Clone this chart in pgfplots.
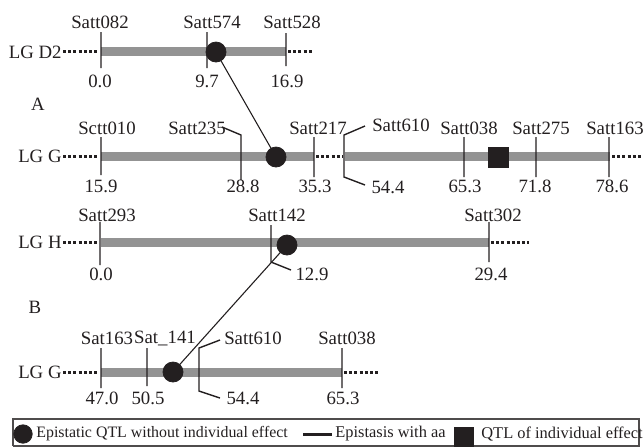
\documentclass[border=0pt]{standalone}
\usepackage{pgfplots}
\pgfplotsset{compat=1.18}
\usepackage{fontspec}
\setmainfont{Liberation Serif}
\definecolor{barg}{HTML}{939393}
\definecolor{ink}{HTML}{231F20}
\begin{document}
\begin{tikzpicture}[every node/.style={font=\fontsize{9.4}{10}\selectfont, inner sep=0pt, text=ink},
  leg/.style={font=\fontsize{8.2}{10}\selectfont}]
\begin{axis}[
  x=0.5pt, y=0.5pt, y dir=reverse,
  xmin=0, xmax=643, ymin=0, ymax=447,
  hide axis, clip=false, scale only axis,
  anchor=south west, at={(0,0)},
  unbounded coords=jump,
  chrom/.style={barg, line width=4.5pt, line cap=butt, mark=none},
  flank/.style={ink, line width=1.5pt, dash pattern=on 1.5pt off 1.1pt, mark=none},
  tick/.style={ink, line width=0.7pt, mark=none},
  link/.style={ink, line width=0.55pt, mark=none},
]
% linkage groups (gray bars)
\addplot[chrom] coordinates {(101,51) (286,51) (nan,nan)
  (101,156) (314,156) (nan,nan) (345,156) (610,156) (nan,nan)
  (101,242) (489,242) (nan,nan) (101,372) (342,372)};
% dotted ends
\addplot[flank] coordinates {(63,51) (99,51) (nan,nan) (288,51) (314,51) (nan,nan)
  (63,156) (99,156) (nan,nan) (316,156) (343,156) (nan,nan) (612,156) (641,156) (nan,nan)
  (63,242) (99,242) (nan,nan) (491,242) (529,242) (nan,nan)
  (63,372) (99,372) (nan,nan) (344,372) (379,372)};
% marker ticks
\addplot[tick] coordinates {
  (101,32) (101,68) (nan,nan) (207,32) (207,68) (nan,nan) (286,33) (286,66) (nan,nan)
  (101,137) (101,175) (nan,nan) (222,127) (241,135) (241,180) (nan,nan)
  (314,137) (314,177) (nan,nan) (365,126) (344,135) (344,177) (365,185) (nan,nan)
  (464,137) (464,177) (nan,nan) (536,137) (536,177) (nan,nan) (609,137) (609,177) (nan,nan)
  (100,222) (100,265) (nan,nan) (271,225) (271,262) (291,270) (nan,nan) (489,222) (489,262) (nan,nan)
  (101,348) (101,388) (nan,nan) (147,348) (147,386) (nan,nan)
  (220,340) (199,348) (199,391) (220,398) (nan,nan) (342,348) (342,388)};
% epistatic links
\addplot[link] coordinates {(216,52) (276,157) (nan,nan) (287,245) (173,372)};
% epistatic QTL
\addplot[only marks, mark=*, mark size=5pt, mark options={fill=ink, draw=ink}]
  coordinates {(216,52) (276,157) (287,245) (173,372)};
% QTL of individual effect
\addplot[only marks, mark=square*, mark size=5pt, mark options={fill=ink, draw=ink}]
  coordinates {(498,157)};
% legend
\addplot[ink!80, line width=0.6pt, mark=none] coordinates {(13,446) (13,419) (639,419) (639,446) (13,446)};
\addplot[only marks, mark=*, mark size=4.6pt, mark options={fill=ink, draw=ink}] coordinates {(23,434)};
\addplot[ink, line width=1.5pt, mark=none] coordinates {(303,434) (332,434)};
\addplot[only marks, mark=square*, mark size=4.7pt, mark options={fill=ink, draw=ink}] coordinates {(464,437)};
\node[font=\fontsize{7.95}{10}\selectfont, anchor=west] at (axis cs:36,434) {Epistatic QTL without individual effect};
\node[leg, anchor=west] at (axis cs:335,434) {Epistasis with aa};
\node[leg, anchor=west] at (axis cs:481,434) {QTL of individual effect};
% group labels
\node[anchor=east] at (axis cs:62,52) {LG D2};
\node[anchor=east] at (axis cs:62,156) {LG G};
\node[anchor=east] at (axis cs:62,242) {LG H};
\node[anchor=east] at (axis cs:62,372) {LG G};
\node at (axis cs:38,104) {A};
\node at (axis cs:35,307) {B};
% LG D2
\node at (axis cs:100,22) {Satt082};
\node at (axis cs:212,22) {Satt574};
\node at (axis cs:292,22) {Satt528};
\node at (axis cs:100,81) {0.0};
\node at (axis cs:207,81) {9.7};
\node at (axis cs:287,81) {16.9};
% LG G (A)
\node at (axis cs:107,128) {Sctt010};
\node at (axis cs:197,128) {Satt235};
\node at (axis cs:318,128) {Satt217};
\node at (axis cs:401,125) {Satt610};
\node at (axis cs:469,128) {Satt038};
\node at (axis cs:541,128) {Satt275};
\node at (axis cs:615,128) {Satt163};
\node at (axis cs:101,186) {15.9};
\node at (axis cs:243,186) {28.8};
\node at (axis cs:315,186) {35.3};
\node at (axis cs:388,187) {54.4};
\node at (axis cs:465,186) {65.3};
\node at (axis cs:535,186) {71.8};
\node at (axis cs:612,186) {78.6};
% LG H
\node at (axis cs:107,215) {Satt293};
\node at (axis cs:277,215) {Satt142};
\node at (axis cs:493,215) {Satt302};
\node at (axis cs:101,274) {0.0};
\node at (axis cs:312,274) {12.9};
\node at (axis cs:491,274) {29.4};
% LG G (B)
\node at (axis cs:107,338) {Sat163};
\node at (axis cs:165,338) {Sat\_141};
\node at (axis cs:253,338) {Satt610};
\node at (axis cs:347,338) {Satt038};
\node at (axis cs:102,398) {47.0};
\node at (axis cs:148,398) {50.5};
\node at (axis cs:243,398) {54.4};
\node at (axis cs:343,398) {65.3};
\end{axis}
\pgfresetboundingbox
\path (0,0) rectangle (321.5pt,223.5pt);
\end{tikzpicture}
\end{document}
